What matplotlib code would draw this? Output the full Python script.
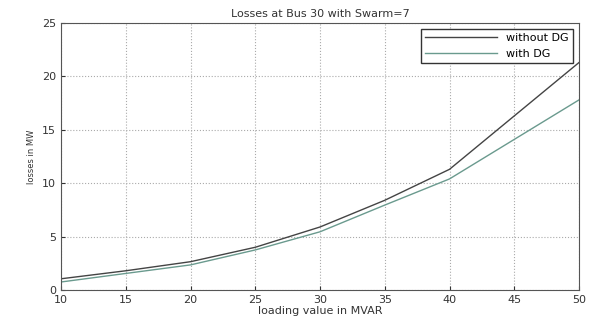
import matplotlib.pyplot as plt

loading = [10, 15, 20, 25, 30, 35, 40, 45, 50]
without_dg = [1.05, 1.8, 2.65, 4.0, 5.9, 8.4, 11.3, 16.3, 21.3]
with_dg = [0.75, 1.55, 2.35, 3.75, 5.45, 7.95, 10.4, 14.1, 17.8]

fig = plt.figure(figsize=(5.92, 3.19), dpi=100)
ax = fig.add_axes([61/592, 1 - 290/319, 518/592, 267/319])

ax.plot(loading, without_dg, color='#444444', lw=1.0, label='without DG')
ax.plot(loading, with_dg, color='#6a9a8e', lw=1.0, label='with DG')

ax.set_xlim(10, 50)
ax.set_ylim(0, 25)
ax.set_xticks(range(10, 55, 5))
ax.set_yticks(range(0, 30, 5))
ax.grid(True, linestyle=':', color='#aaaaaa', lw=0.8)
ax.tick_params(direction='in', labelsize=8, length=3, colors='#333333')
for s in ax.spines.values():
    s.set_color('#555555')

ax.set_title('Losses at Bus 30 with Swarm=7', fontsize=8, color='#333333', pad=4)
ax.set_xlabel('loading value in MVAR', fontsize=8, color='#333333', labelpad=1)
ax.set_ylabel('losses in MW', fontsize=6, color='#333333', labelpad=4)
leg = ax.legend(loc='upper right', fontsize=8, fancybox=False, framealpha=1,
                edgecolor='#333333', handlelength=6.5, borderaxespad=0.5)

fig.savefig('out.png', dpi=100)
